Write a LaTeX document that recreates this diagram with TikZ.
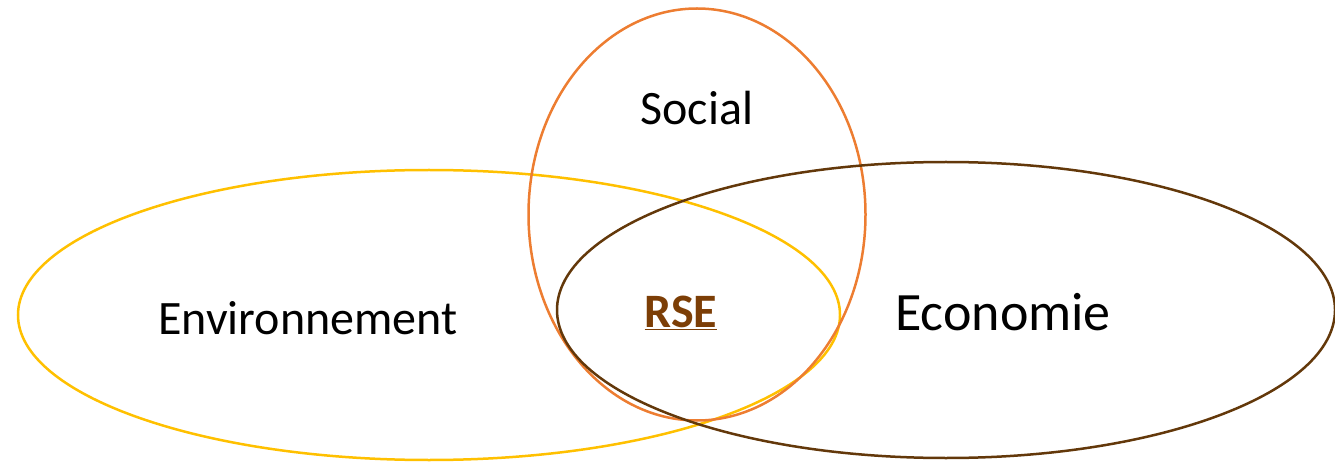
\documentclass[tikz,border=0pt]{standalone}
\usepackage{fontspec}
\setmainfont{Carlito}
\usepackage{tikz}
\usetikzlibrary{positioning}
\definecolor{envyellow}{RGB}{255,192,0}
\definecolor{socorange}{RGB}{237,125,49}
\definecolor{ecobrown}{RGB}{99,56,10}
\definecolor{rsebrown}{RGB}{124,62,6}
\tikzset{ring/.style={line width=2.5pt},
  lbl/.style={inner sep=0pt,font=\fontsize{48}{54}\selectfont}}

\begin{document}
\begin{tikzpicture}[x=1pt,y=-1pt]
  \useasboundingbox (0,0) rectangle (1335,462);
  \draw [ring,envyellow] (429,315) ellipse (411 and 145);
  \draw [ring,socorange] (697,214.5) ellipse (168.5 and 206);
  \draw [ring,ecobrown] (946,310) ellipse (389 and 148);

  \node [lbl] (social) at (697,108) {Social};
  \node [lbl] (env) at (308,318) {Environnement};
  \node [lbl,font=\fontsize{54}{60}\selectfont] (eco) at (1003,312) {Economie};
  \node [lbl,text=rsebrown,font=\fontsize{48}{54}\selectfont\bfseries] (rse) at (681,313) {\underline{RSE}};
\end{tikzpicture}
\end{document}
